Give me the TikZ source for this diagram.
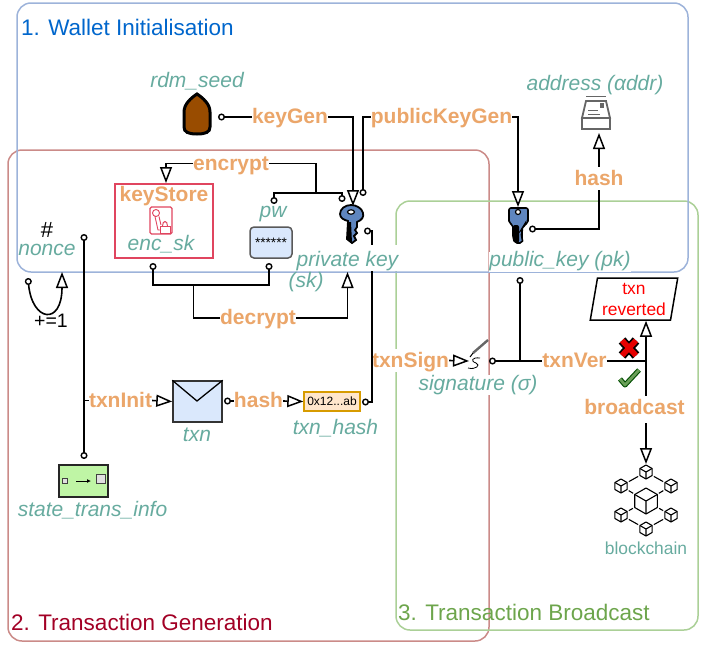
\documentclass[tikz,border=0pt]{standalone}
\usepackage{fontspec}
\setmainfont{Liberation Sans}
\usetikzlibrary{arrows.meta,shapes.geometric}

\definecolor{bluebox}{HTML}{9DB3DA}
\definecolor{redbox}{HTML}{CB8B88}
\definecolor{greenbox}{HTML}{ABD097}
\definecolor{bluetitle}{HTML}{0066CC}
\definecolor{redtitle}{HTML}{A20025}
\definecolor{greentitle}{HTML}{6DA54C}
\definecolor{opcolor}{HTML}{EBA66A}
\definecolor{termcolor}{HTML}{67AB9F}
\definecolor{keyblue}{HTML}{5F86BF}
\definecolor{storered}{HTML}{E0455F}
\definecolor{iconblue}{HTML}{DAE8FC}
\definecolor{chipline}{HTML}{D79B00}
\definecolor{chipfill}{HTML}{FFE6CC}
\definecolor{statefill}{HTML}{BFF5A5}
\definecolor{seedbrown}{HTML}{994C00}
\definecolor{tickgreen}{HTML}{6A9F58}

\tikzset{
    ring/.tip={Circle[open,fill=white,length=7pt,width=7pt,line width=1.4pt]},
    hollow/.tip={Triangle[open,fill=white,length=16pt,width=12pt,line width=1.5pt]},
    wire/.style={line width=1.6pt,black},
    group/.style={draw,line width=1.5pt,rounded corners=14pt},
    grouptitle/.style={anchor=west,inner sep=0pt,font=\fontsize{22.5}{26}\selectfont},
    oplabel/.style={inner xsep=0pt,inner ysep=3pt,text height=15pt,text depth=2pt,fill=white,text=opcolor,font=\fontsize{21}{24}\selectfont\bfseries},
    termlabel/.style={inner sep=0pt,text height=15pt,text depth=5pt,text=termcolor,font=\fontsize{21}{24}\selectfont\itshape},
    filledterm/.style={termlabel,fill=white},
    iconbox/.style={draw=#1,line width=1.5pt,inner sep=0pt},
    seedpic/.pic={
        \draw[line width=3pt,fill=seedbrown] (0,-22) .. controls (6,-18) and (13,-12) .. (13,-4)
            -- (13,11) .. controls (13,16) and (9,18) .. (0,18)
            .. controls (-9,18) and (-13,16) .. (-13,11) -- (-13,-4) .. controls (-13,-12) and (-6,-18) .. (0,-22) -- cycle;
    },
    skpic/.pic={
        \draw[line width=1.8pt,fill=keyblue] (-3,7) -- (-4,25) -- (1,29) -- (5,26) -- (3,22) -- (6,19) -- (4,16) -- (6,13) -- (6,8)
            .. controls (11,6) and (13,3) .. (12,-1) .. controls (11,-6) and (5,-9) .. (0,-9)
            .. controls (-6,-9) and (-11,-5) .. (-11,0) .. controls (-11,4) and (-7,6) .. (-3,7) -- cycle;
        \fill (-3,8) -- (-4,25) -- (1,29) -- (0,8) -- cycle;
        \draw[line width=1.2pt,fill=white] (0,-2) ellipse (3.5pt and 2.2pt);
    },
    pkpic/.pic={
        \draw[line width=1.6pt,fill=keyblue,rounded corners=2pt] (-9,-8) -- (10,-8) -- (10,7) -- (6,9) -- (5,12) -- (3,14) -- (5,17) -- (3,20) -- (5,23) -- (4,27)
            -- (-3,27) -- (-5,22) -- (-5,9) -- (-9,7) -- cycle;
        \fill[rounded corners=2pt] (-5,9) -- (-5,22) -- (-3,27) -- (1,27) -- (1,9) -- cycle;
        \draw[line width=1.2pt,fill=white] (0,-4) circle (2.5pt);
    },
    storepic/.pic={
        \draw[storered,line width=1.3pt,rounded corners=1.5pt] (-11,-13) rectangle (11,14);
        \draw[storered,line width=.9pt] (-5,-7) circle (3.5pt) (-6,-3.5) -- (-3,10) -- (-1,10) (-2,-3.5) -- (0,5);
        \draw[storered,line width=1pt,fill=white] (-1,6) rectangle (9,13);
        \draw[storered,line width=1pt] (1.5,6) .. controls (1.5,0) and (6.5,0) .. (6.5,6);
    },
    inboxpic/.pic={
        \draw[gray!80!black,line width=1pt] (-10,-17) -- (10,-17);
        \draw[gray!80!black,line width=1.8pt,fill=white] (-10,-12) -- (10,-12) -- (14,5) -- (-14,5) -- cycle;
        \draw[gray!80!black,line width=1.2pt,fill=white] (-14,5) rectangle (14,16);
        \draw[gray!80!black,line width=1pt] (-8,-3) -- (2,-3) (-8,1) -- (4,1);
        \fill[gray!80!black] (4,-10) rectangle (8,-5);
    },
    cubepic/.pic={
        \draw[line width=1.1pt,line join=round,fill=white] (0,-1) -- (-.87,-.5) -- (-.87,.5) -- (0,1) -- (.87,.5) -- (.87,-.5) -- cycle;
        \draw[line width=1.1pt,line join=round] (-.87,-.5) -- (0,0) -- (.87,-.5) (0,0) -- (0,1);
    },
}

\begin{document}
\begin{tikzpicture}[x=1pt,y=-1pt]
        \useasboundingbox (0,0) rectangle (708,648);

        \draw[group,redbox] (8,150) rectangle (489,641);
        \draw[group,greenbox] (396,201) rectangle (698,630);
        \draw[group,bluebox] (17,3) rectangle (688,272);

        \node[grouptitle,text=bluetitle] (walletTitle) at (21,27) {1. Wallet Initialisation};
        \node[grouptitle,text=redtitle] (txnGenTitle) at (11,622) {2. Transaction Generation};
        \node[grouptitle,text=greentitle] (broadcastTitle) at (398,612) {3. Transaction Broadcast};

        \pic at (197,116) {seedpic};
        \pic at (351,214) {skpic};
        \pic at (518,216) {pkpic};
        \pic at (596,113) {inboxpic};

        \node[termlabel] (seedLabel) at (197,82) {rdm\_seed};
        \node[termlabel] (addrLabel) at (595,85.5) {address (αddr)};
        \node[termlabel] (pwLabel) at (273,212) {pw};
        \node[termlabel] (skParen) at (306,282) {(sk)};
        \node[filledterm] (pkLabel) at (560,261.5) {public\_key (pk)};
        \node[filledterm] (sigLabel) at (478,385) {signature (σ)};
        \node[filledterm] (hashLabel) at (335.5,429.5) {txn\_hash};
        \node[termlabel] (txnLabel) at (197,436) {txn};
        \node[termlabel] (stateLabel) at (92.5,511.5) {state\_trans\_info};
        \node[termlabel,anchor=base,text height=11pt,text depth=0pt] (nonceLabel) at (47,255) {nonce};
        \node[inner sep=0pt,font=\fontsize{22}{24}\selectfont] (nonceMark) at (47,230) {\#};
        \node[inner sep=0pt,font=\fontsize{19.5}{22}\selectfont] (plusOne) at (51,321) {+=1};
        \node[inner sep=0pt,text=termcolor,font=\fontsize{17.4}{20}\selectfont] (chainLabel) at (646,548) {blockchain};

        \node[iconbox=storered,minimum width=98pt,minimum height=74pt] (keyStore) at (164,221) {};
        \node[oplabel,fill=none] (keyStoreLabel) at (164,195) {keyStore};
        \pic at (161,220) {storepic};
        \node[termlabel] (encLabel) at (161,245) {enc\_sk};

        \node[iconbox=black!65,rounded corners=4pt,fill=iconblue,minimum width=42pt,minimum height=31pt,font=\fontsize{13.7}{15}\selectfont] (pwBox) at (271,242.5) {******};
        \node[iconbox=black!80,fill=iconblue,minimum width=49pt,minimum height=41pt] (txn) at (197.5,401.5) {};
        \draw[line width=1.3pt] (txn.north west) -- (197,401) -- (txn.north east);
        \node[iconbox=chipline,fill=chipfill,minimum width=56pt,minimum height=19pt,font=\fontsize{12}{14}\selectfont] (txnHash) at (332,401.5) {0x12...ab};
        \node[iconbox=black!85,fill=statefill,minimum width=49pt,minimum height=32pt] (stateBox) at (83.5,481) {};
        \node[draw=black!75,line width=.8pt,fill=black!12,inner sep=0pt,minimum size=5.5pt] (stateFrom) at (65,481) {};
        \node[draw=black!75,line width=.8pt,fill=black!12,inner sep=0pt,minimum size=9pt] (stateTo) at (101,479) {};
        \draw[-{Latex[length=4pt,width=4pt]},line width=.9pt] (76,481) -- (91,481);
        \node[draw,line width=1.5pt,trapezium,trapezium left angle=79,trapezium right angle=101,trapezium stretches=true,minimum width=88pt,minimum height=42pt,inner sep=0pt,align=center,text=red,font=\fontsize{17.4}{21}\selectfont] (reverted) at (634,299) {txn\\reverted};

        \node[oplabel] (keyGen) at (290,117) {keyGen};
        \node[oplabel] (publicKeyGen) at (441.5,117) {publicKeyGen};
        \node[oplabel] (encrypt) at (231,163.5) {encrypt};
        \node[oplabel] (decrypt) at (258,318) {decrypt};
        \node[oplabel] (addrHash) at (599,178.5) {hash};
        \node[oplabel] (txnInit) at (120.5,400.5) {txnInit};
        \node[oplabel] (txnHashOp) at (258.5,401) {hash};
        \node[oplabel] (txnSign) at (410.5,360.5) {txnSign};
        \node[oplabel] (txnVer) at (574.5,361) {txnVer};
        \node[oplabel] (broadcast) at (634.5,407.5) {broadcast};

        \coordinate (seedOut) at (218,117);
        \coordinate (skIn) at (353,206);
        \coordinate (skEnc) at (342,202);
        \coordinate (skOut) at (364,231);
        \coordinate (skPub) at (363,196);
        \coordinate (skDec) at (347.5,272);
        \coordinate (skBend) at (372,231);
        \coordinate (hashBend) at (372,402);
        \coordinate (pkIn) at (518,207);
        \coordinate (pkOut) at (529,229);
        \coordinate (pkVer) at (520,277);
        \coordinate (addrIn) at (599,133);
        \coordinate (pwEnc) at (274,204);
        \coordinate (pwDec) at (269,263);
        \coordinate (storeDec) at (153,263);
        \coordinate (storeIn) at (166,183);
        \coordinate (encBar) at (316,193);
        \coordinate (decBar) at (193.5,285);
        \coordinate (nonceOut) at (84,234);
        \coordinate (stateOut) at (84,459);
        \coordinate (loopOut) at (28,278);
        \coordinate (loopIn) at (62,272);
        \coordinate (txnOut) at (224,401);
        \coordinate (hashOut) at (362,402);
        \coordinate (sigIn) at (469,361);
        \coordinate (sigOut) at (489,361);
        \coordinate (verJoin) at (646,361);
        \coordinate (chainOut) at (646,423);
        \coordinate (chainIn) at (646,464);

        \draw[wire,{ring}-] (seedOut) -- (keyGen);
        \draw[wire,-{hollow}] (keyGen.east) -| (skIn);
        \draw[wire,{ring}-] (skPub) |- (publicKeyGen.west);
        \draw[wire,-{hollow}] (publicKeyGen.east) -| (pkIn);
        \draw[wire,{ring}-] (pkOut) -| (addrHash.south);
        \draw[wire,-{hollow}] (addrHash.north) -- (addrIn);
        \draw[wire,-{hollow}] (encrypt.west) -| (storeIn);
        \draw[wire] (encrypt.east) -| (encBar);
        \draw[wire,{ring}-{ring}] (pwEnc) |- (encBar) -| (skEnc);
        \draw[wire,{ring}-{ring}] (storeDec) |- (decBar) -| (pwDec);
        \draw[wire] (decBar) |- (decrypt.west);
        \draw[wire,-{hollow}] (decrypt.east) -| (skDec);
        \draw[wire,{ring}-{ring}] (nonceOut) -- (stateOut);
        \draw[wire,{ring}-{hollow}] (loopOut) .. controls (32,322) and (62,326) .. (loopIn);
        \draw[wire] (txnInit.west -| nonceOut) -- (txnInit.west);
        \draw[wire,-{hollow}] (txnInit.east) -- (txn.west);
        \draw[wire,{ring}-] (txnOut) -- (txnHashOp.west);
        \draw[wire,-{hollow}] (txnHashOp.east) -- (txnHash.west);
        \draw[wire,{ring}-{ring}] (skOut) -- (skBend) -- (hashBend) -- (hashOut);
        \draw[wire,-{hollow}] (txnSign.east) -- (sigIn);
        \draw[wire,{ring}-] (sigOut) -- (txnVer.west);
        \draw[wire,{ring}-] (pkVer) -- (pkVer |- sigOut);
        \draw[wire] (txnVer.east) -- (verJoin);
        \draw[wire,-{hollow}] (verJoin) -- (verJoin |- reverted.south);
        \draw[wire] (verJoin) -- (verJoin |- broadcast.north);
        \draw[wire,-{hollow}] (chainOut) -- (chainIn);

        \draw[line width=2.4pt,black!60] (473,353) -- (488,340);
        \draw[line width=1pt] (473,353) -- (470,357);
        \draw[line width=.8pt] (480,358) .. controls (472,357) and (470,361) .. (476,363) .. controls (481,365) and (476,370) .. (468,368);

        \draw[black,line width=9pt] (622,340.5) -- (636,355.5) (622,355.5) -- (636,340.5);
        \draw[red!90!black,line width=5.5pt] (622,340.5) -- (636,355.5) (622,355.5) -- (636,340.5);
        \draw[black!70!green,line width=5pt,line join=round] (620,379) -- (625,385) -- (639,370);
        \draw[tickgreen,line width=2.8pt,line join=round] (620,379) -- (625,385) -- (639,370);

        \foreach \cx/\cy/\ca/\cb in {646/472/621/486, 646/472/671/486, 646/529/621/515, 646/529/671/515}
            \draw[line width=1.1pt,shorten >=9pt,shorten <=9pt] (\cx,\cy) -- (\ca,\cb);
        \foreach \ca/\cb in {621/486, 671/486, 621/515, 671/515}
            \draw[line width=1.1pt,shorten >=15pt,shorten <=9pt] (\ca,\cb) -- (646,501);
        \foreach \cx/\cy in {646/472, 621/486, 671/486, 621/515, 671/515, 646/529}
            \pic[scale=7] at (\cx,\cy) {cubepic};
        \pic[scale=13] at (646,501) {cubepic};

        \node[filledterm,anchor=base,text height=21pt] (skLabel) at (347.5,266) {private key};
    \end{tikzpicture}
\end{document}
